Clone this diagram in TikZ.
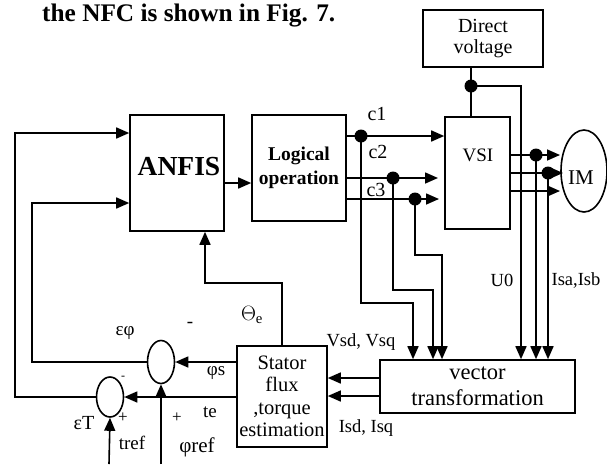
\documentclass[tikz,border=0pt]{standalone}
\usepackage{fontspec}
\setmainfont{Liberation Serif}
\usetikzlibrary{arrows.meta,shapes.geometric}
\begin{document}
\begin{tikzpicture}[x=1pt,y=-1pt,
  box/.style={draw,line width=1.6pt,inner sep=0pt},
  arr/.style={line width=1.6pt,-{Triangle[length=13pt,width=11pt]}},
  ln/.style={line width=1.6pt},
  jdot/.style={circle,fill,inner sep=0pt,minimum size=13pt},
  lbl/.style={font=\fontsize{18.5}{20}\selectfont,inner sep=0pt},
  sml/.style={font=\fontsize{19}{21}\selectfont,inner sep=0pt},
  sumc/.style={ellipse,draw,line width=1.6pt,inner sep=0pt}]
\useasboundingbox (0,0) rectangle (607,464);

% title
\node[anchor=base west,font=\bfseries\fontsize{25.3}{28}\selectfont,inner sep=0pt] (title) at (42,21) {the NFC is shown in Fig. 7.};

% blocks
\node[box,minimum width=94pt,minimum height=116pt] (anfis) at (177,173) {};
\node[font=\bfseries\fontsize{27.5}{30}\selectfont,inner sep=0pt] (anfist) at (179,167) {ANFIS};
\node[box,minimum width=94pt,minimum height=106pt,align=center,font=\bfseries\fontsize{19.5}{24}\selectfont] (logic) at (299,168) {Logical\\operation};
\node[box,minimum width=120pt,minimum height=57pt,align=center,font=\fontsize{20}{21}\selectfont] (dv) at (483,38.5) {Direct\\voltage};
\node[box,minimum width=65pt,minimum height=112pt] (vsi) at (477.5,173) {};
\node[font=\fontsize{19}{22}\selectfont,inner sep=0pt] (vsit) at (478,155) {VSI};
\node[ellipse,draw,line width=1.6pt,minimum width=46pt,minimum height=82pt,inner sep=0pt] (im) at (584,171) {};
\node[font=\fontsize{21}{24}\selectfont,inner sep=0pt] (imt) at (581,178) {IM};
\node[box,minimum width=90pt,minimum height=101pt,align=center,font=\fontsize{20.5}{22.5}\selectfont] (stator) at (282,396.5) {Stator\\flux\\,torque\\estimation};
\node[box,minimum width=195pt,minimum height=53pt,align=center,font=\fontsize{22.5}{26}\selectfont] (vec) at (477.5,386.5) {vector\\transformation};
\node[sumc,minimum width=27pt,minimum height=43pt] (s1) at (161,362) {};
\node[sumc,minimum width=27pt,minimum height=40pt] (s2) at (110,397) {};

% helper coordinates
\coordinate (d1) at (361,136);
\coordinate (d2) at (393,178);
\coordinate (d3) at (415,199);
\coordinate (c2e) at (438,178);
\coordinate (c3e) at (439,199);
\coordinate (v1) at (413,303);
\coordinate (v2) at (433,290);
\coordinate (v3) at (442,255);
\coordinate (dd) at (471,86);
\coordinate (u0) at (521,86);
\coordinate (o1) at (536,155);
\coordinate (o2) at (548,173);
\coordinate (o3) at (548,191);
\coordinate (i1) at (560,155);
\coordinate (i2) at (563,173);
\coordinate (i3) at (560,191);
\coordinate (w1) at (400,378);
\coordinate (w2) at (400,396);
\coordinate (l1) at (32,203);
\coordinate (l2) at (15,133);
\coordinate (tr) at (109,464);
\coordinate (pr) at (161,464);
\coordinate (th) at (205,283);
\coordinate (ay) at (230,183);

% ANFIS -> logic
\draw[arr] (anfis.east |- ay) -- (logic.west |- ay);

% c1, c2, c3
\draw[ln] (logic.east |- d1) -- (d1);
\draw[arr] (d1) -- (vsi.west |- d1);
\draw[ln] (logic.east |- d2) -- (d2);
\draw[arr] (d2) -- (c2e);
\draw[ln] (logic.east |- d3) -- (d3);
\draw[arr] (d3) -- (c3e);
\draw[arr] (d1) |- (v1) -- (vec.north -| v1);
\draw[arr] (d2) |- (v2) -- (vec.north -| v2);
\draw[arr] (d3) |- (v3) -- (vec.north -| v3);

% direct voltage
\draw[ln] (dv.south -| dd) -- (vsi.north -| dd);
\draw[arr] (dd) -- (u0) -- (vec.north -| u0);

% VSI outputs
\draw[arr] (vsi.east |- o1) -- (i1);
\draw[arr] (vsi.east |- o2) -- (i2);
\draw[arr] (vsi.east |- o3) -- (i3);
\draw[arr] (o1) -- (vec.north -| o1);
\draw[arr] (o2) -- (vec.north -| o2);

% vector -> stator
\draw[arr] (vec.west |- w1) -- (stator.east |- w1);
\draw[arr] (vec.west |- w2) -- (stator.east |- w2);

% stator -> sums
\draw[arr] (stator.west |- s1.east) -- (s1.east);
\draw[arr] (stator.west |- s2.east) -- (s2.east);

% sums -> ANFIS
\draw[arr] (s1.west) -| (l1) -- (anfis.west |- l1);
\draw[arr] (s2.west) -| (l2) -- (anfis.west |- l2);

% references
\draw[arr] (tr) -- (s2.south);
\draw[arr] (pr) -- (s1.south);

% theta feedback
\draw[arr] (stator.north) |- (th) -- (anfis.south -| th);

% junction dots
\node[jdot] (jd1) at (d1) {};
\node[jdot] (jd2) at (d2) {};
\node[jdot] (jd3) at (d3) {};
\node[jdot] (jdd) at (dd) {};
\node[jdot] (jo1) at (o1) {};
\node[jdot] (jo2) at (o2) {};

% labels
\node[lbl,font=\fontsize{20}{22}\selectfont] (lc1) at (377,114) {c1};
\node[lbl,font=\fontsize{20}{22}\selectfont] (lc2) at (378,152) {c2};
\node[lbl,font=\fontsize{20}{22}\selectfont] (lc3) at (376,190) {c3};
\node[lbl] (lu0) at (502,280) {U0};
\node[lbl] (lisab) at (576,280) {Isa,Isb};
\node[lbl] (lvsd) at (361,342) {Vsd, Vsq};
\node[lbl] (lisd) at (366,428) {Isd, Isq};
\node[font=\fontsize{21}{23}\selectfont,inner sep=0pt] (lth) at (252,315) {$\Theta_{\mathrm{e}}$};
\node[sml] (lef) at (125,333) {εφ};
\node[sml] (lm1) at (190,325) {-};
\node[sml] (lps) at (216,373) {φs};
\node[sml] (lte) at (210,412) {te};
\node[sml,font=\fontsize{17}{18}\selectfont] (lp1) at (177,418) {+};
\node[sml,font=\fontsize{21}{23}\selectfont] (lpr) at (197,447) {φref};
\node[sml,font=\fontsize{20}{22}\selectfont] (let) at (84,423) {εT};
\node[sml,font=\fontsize{17}{18}\selectfont] (lp2) at (123,418) {+};
\node[sml,font=\fontsize{12}{12}\selectfont] (lm2) at (123,378) {-};
\node[sml] (ltr) at (132,443) {tref};
\end{tikzpicture}
\end{document}
